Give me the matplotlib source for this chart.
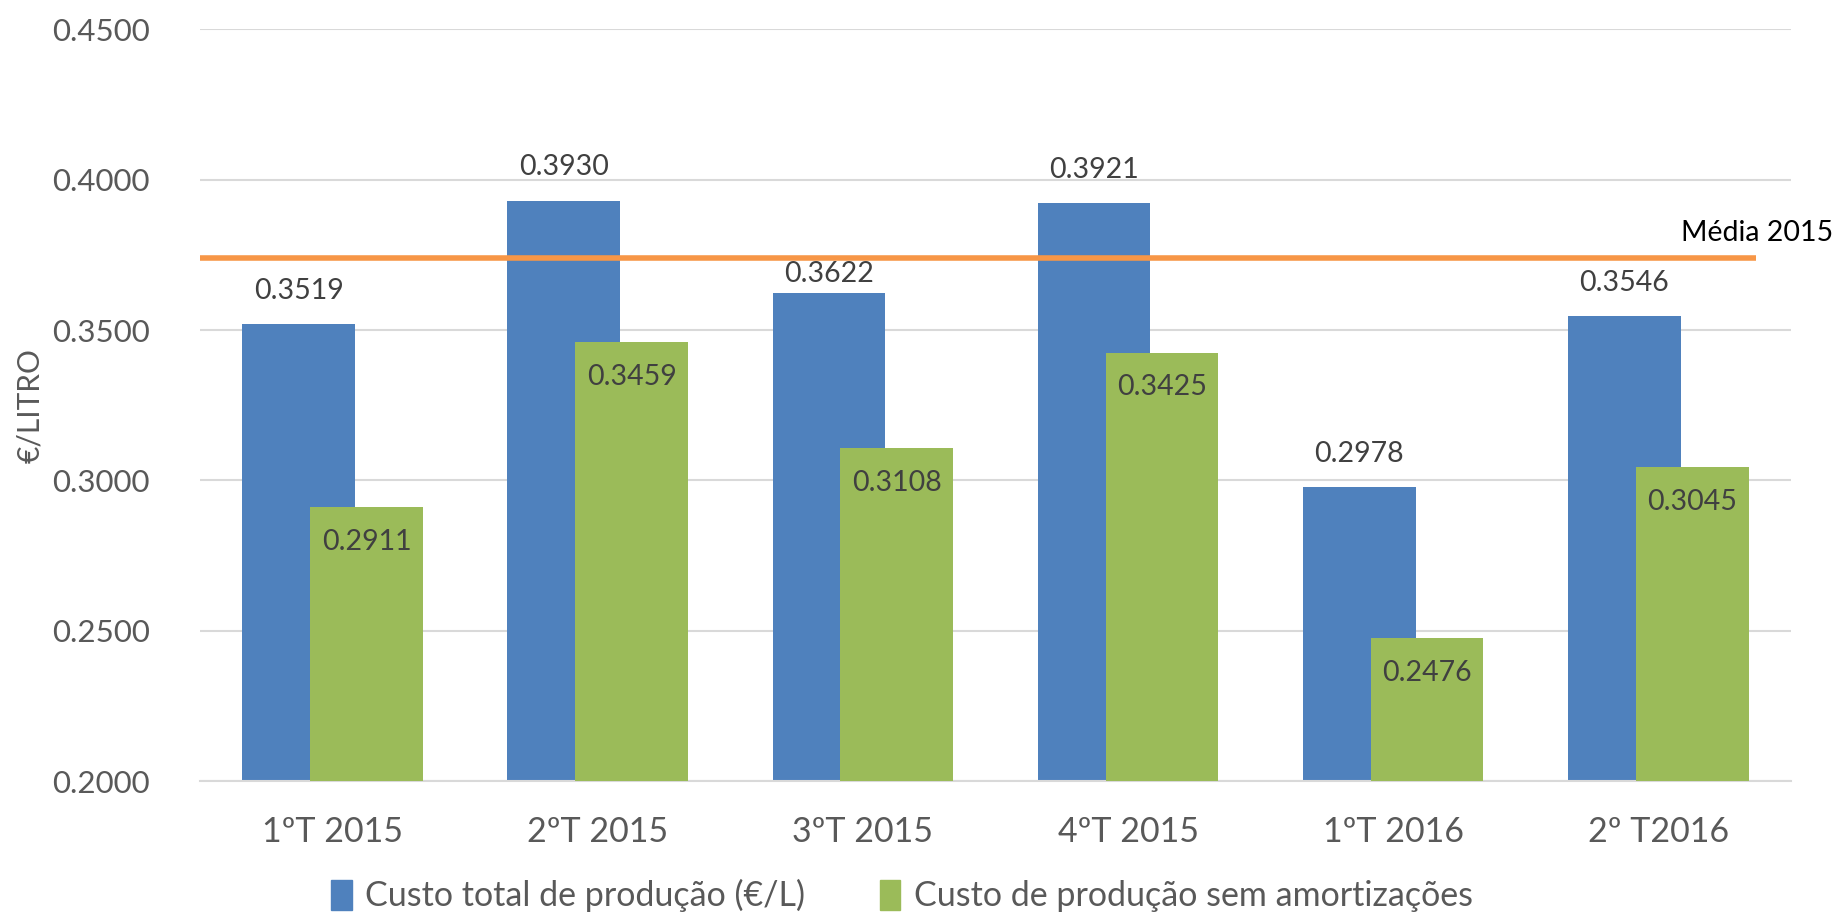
import matplotlib
matplotlib.use("Agg")
import matplotlib.pyplot as plt
from matplotlib.patches import Patch

plt.rcParams['font.family'] = ['Lato', 'DejaVu Sans']

# Data
quarters = ['1ºT 2015', '2ºT 2015', '3ºT 2015', '4ºT 2015', '1ºT 2016', '2º T2016']
custo_total = [0.3519, 0.3930, 0.3622, 0.3921, 0.2978, 0.3546]
custo_sem_amort = [0.2911, 0.3459, 0.3108, 0.3425, 0.2476, 0.3045]
media_2015 = 0.3741
y_ticks = [0.20, 0.25, 0.30, 0.35, 0.40, 0.45]

blue = '#4F81BD'
green = '#9BBB59'
orange = '#F79646'
grid_col = '#D9D9D9'
tick_col = '#595959'
label_col = '#404040'

fig = plt.figure(figsize=(18.41, 9.17), dpi=100)
ax = fig.add_axes([0.1086, 0.1483, 0.8642, 0.8197])

x = list(range(len(quarters)))
w = 0.425
off = 0.128

ax.bar([i - off for i in x], custo_total, width=w, color=blue, zorder=2)
ax.bar([i + off for i in x], custo_sem_amort, width=w, color=green, zorder=3)

# average line for 2015
ax.plot([-0.5, 5.37], [media_2015, media_2015], color=orange, linewidth=4, zorder=4,
        solid_capstyle='butt')
ax.text(5.66, 0.3824, 'Média 2015', ha='right', va='center', fontsize=20.5,
        color='black', clip_on=False)

# value labels (the 3rd one sits lower so it stays under the orange line)
for i, v in enumerate(custo_total):
    dy = 14 if i == 2 else 24
    ax.annotate('%.4f' % v, (i - off, v), xytext=(0, dy), textcoords='offset points',
                ha='center', va='center', fontsize=20.5, color=label_col, zorder=5)
for i, v in enumerate(custo_sem_amort):
    ax.annotate('%.4f' % v, (i + off, v), xytext=(0, -25), textcoords='offset points',
                ha='center', va='center', fontsize=20.5, color=label_col, zorder=5)

ax.set_xlim(-0.5, 5.5)
ax.set_ylim(0.2, 0.45)
ax.set_yticks(y_ticks)
ax.set_yticklabels(['%.4f' % t for t in y_ticks])
ax.set_xticks(x)
ax.set_xticklabels(quarters)

ax.grid(axis='y', color=grid_col, linewidth=1.5, zorder=0)
ax.set_axisbelow(True)
for s in ['top', 'right', 'left']:
    ax.spines[s].set_visible(False)
ax.spines['bottom'].set_color(grid_col)
ax.spines['bottom'].set_linewidth(1.5)

ax.tick_params(axis='y', length=0, pad=36, labelsize=22.5, labelcolor=tick_col)
ax.tick_params(axis='x', length=0, pad=25, labelsize=24.5, labelcolor=tick_col)

ax.set_ylabel('€/LITRO', fontsize=21.5, color=tick_col)
ax.yaxis.set_label_coords(-0.098, 0.5)

handles = [Patch(color=blue, label='Custo total de produção (€/L)'),
           Patch(color=green, label='Custo de produção sem amortizações')]
fig.legend(handles=handles, loc='center', bbox_to_anchor=(0.49, 0.023), ncol=2,
           frameon=False, fontsize=24.5, labelcolor=tick_col, handlelength=0.6,
           handleheight=1.0, handletextpad=0.4, columnspacing=2.2)

plt.savefig('out.png', dpi=100)
